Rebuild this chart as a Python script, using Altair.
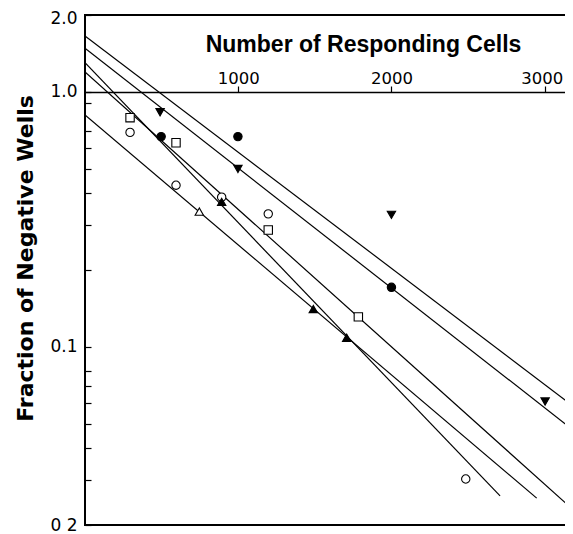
import altair as alt
import pandas as pd

# ---- fitted lines (two end points each, log-linear) ----
line_ids = ["A", "A", "B", "B", "C", "C", "D", "D", "E", "E"]
line_x = [0, 3185, 0, 3185, 0, 3153, 0, 2948, 0, 2709]
line_y = [1.654, 0.0586, 1.480, 0.0472, 1.196, 0.0239, 0.811, 0.0255, 1.300, 0.0260]

# ---- observed points ----
filled_circle_x = [497, 998, 2000]
filled_circle_y = [0.667, 0.667, 0.171]
filled_down_x = [490, 998, 2000, 3003]
filled_down_y = [0.831, 0.498, 0.329, 0.061]
open_square_x = [294, 594, 1196, 1784]
open_square_y = [0.791, 0.631, 0.287, 0.131]
open_circle_x = [294, 594, 892, 1196, 2485]
open_circle_y = [0.693, 0.430, 0.386, 0.332, 0.0303]
open_up_x = [746]
open_up_y = [0.339]
filled_up_x = [892, 1490, 1708]
filled_up_y = [0.370, 0.1406, 0.1085]

series_names = ["filled circle", "filled down", "open square",
                "open circle", "open up", "filled up"]
series_shapes = ["circle", "triangle-down", "square", "circle", "triangle-up", "triangle-up"]
series_fills = ["black", "black", "white", "white", "white", "black"]

x_ticks = [1000, 2000, 3000]
y_ticks = [2.0, 1.0, 0.9, 0.7, 0.6, 0.5, 0.4, 0.3, 0.2, 0.1,
           0.08, 0.07, 0.06, 0.05, 0.04, 0.03, 0.02]
y_label_values = [2.0, 1.0, 0.1, 0.02]
y_label_texts = ["2.0", "1.0", "0.1", "0 2"]

lines_df = pd.DataFrame({"id": line_ids, "x": line_x, "y": line_y})

rows = []
for name, xs, ys in zip(series_names,
                        [filled_circle_x, filled_down_x, open_square_x,
                         open_circle_x, open_up_x, filled_up_x],
                        [filled_circle_y, filled_down_y, open_square_y,
                         open_circle_y, open_up_y, filled_up_y]):
    for xv, yv in zip(xs, ys):
        rows.append({"series": name, "x": xv, "y": yv})
points_df = pd.DataFrame(rows)

label_expr = " : ".join(
    f"abs(datum.value - {v}) < 1e-9 ? '{t}'" for v, t in zip(y_label_values, y_label_texts)
) + " : ''"

x_scale = alt.Scale(domain=[0, 3198], nice=False, zero=False)
y_scale = alt.Scale(type="log", domain=[0.02, 2.0], nice=False)

x_axis = alt.Axis(
    orient="top", offset=-77, values=x_ticks, format="d",
    title="Number of Responding Cells",
    titleFont="Liberation Sans", titleFontSize=23, titleFontWeight="bold",
    titleColor="black", titleX=278, titleY=-41, titleAlign="center",
    titleBaseline="alphabetic", titleAnchor="start",
    labelFont="DejaVu Sans", labelFontSize=16.5, labelColor="black",
    labelBaseline="alphabetic", labelPadding=3, labelFlush=False,
    labelOverlap=False,
    labelOffset={"condition": {"test": "datum.value > 2500", "value": -3}, "value": 0},
    tickSize=6, tickColor="black", tickWidth=1.2,
    domainColor="black", domainWidth=1.5, grid=False,
)
y_axis = alt.Axis(
    orient="left", offset=-6, values=y_ticks, labelExpr=label_expr,
    title="Fraction of Negative Wells",
    titleFont="DejaVu Sans", titleFontSize=22, titleFontWeight="bold",
    titleColor="black", titleX=-66, titleY=243, titleAlign="center",
    titleBaseline="middle", titleAngle=270,
    labelFont="DejaVu Sans", labelFontSize=17, labelColor="black",
    labelPadding=8, labelFlush=False, labelOverlap=False,
    labelOffset={"condition": {"test": "datum.value > 1.5", "value": 3}, "value": 0},
    tickSize=6, tickColor="black", tickWidth=1.2,
    domain=False, grid=False,
)

lines = alt.Chart(lines_df).mark_line(color="black", strokeWidth=1.2, clip=True).encode(
    x=alt.X("x:Q", scale=x_scale, axis=x_axis),
    y=alt.Y("y:Q", scale=y_scale, axis=y_axis),
    detail="id:N",
)

points = alt.Chart(points_df).mark_point(size=70, strokeWidth=1.1, opacity=1, clip=True).encode(
    x=alt.X("x:Q", scale=x_scale, axis=x_axis),
    y=alt.Y("y:Q", scale=y_scale, axis=y_axis),
    shape=alt.Shape("series:N", scale=alt.Scale(domain=series_names, range=series_shapes), legend=None),
    fill=alt.Fill("series:N", scale=alt.Scale(domain=series_names, range=series_fills), legend=None),
    stroke=alt.value("black"),
)

chart = alt.layer(lines, points).properties(
    width=490, height=510,
    autosize=alt.AutoSizeParams(type="none"),
    padding={"left": 77, "top": 7, "right": -10, "bottom": 8},
    background="white",
).configure_view(stroke="black", strokeWidth=2)

chart.save("out.html", embed_options={"renderer": "svg", "actions": False})
